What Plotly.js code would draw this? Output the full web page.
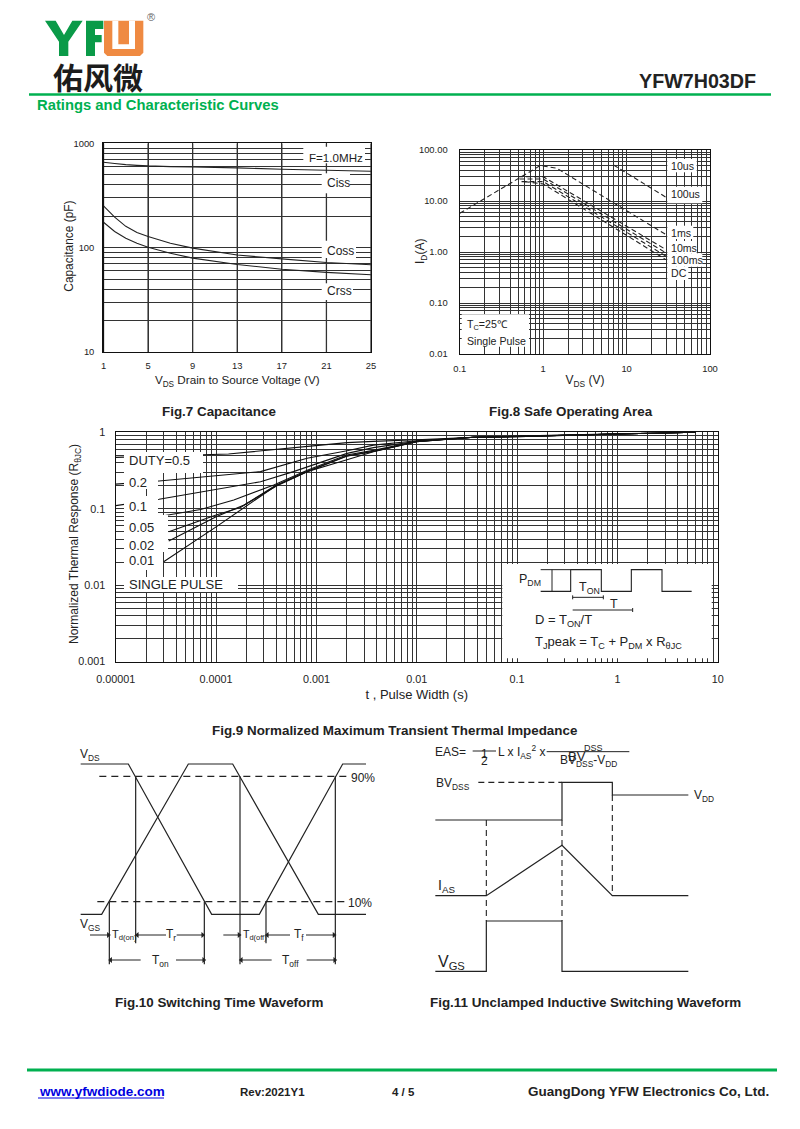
<!DOCTYPE html>
<html><head><meta charset="utf-8">
<script src="https://cdn.plot.ly/plotly-3.0.1.min.js"></script>
<style>html,body{margin:0;padding:0;background:#fff}</style></head>
<body><div id="c" style="width:800px;height:1129px"></div>
<script>
// ---------- Fig.7 Capacitance ----------
const capVds  = [1,2,3,4,5,7,9,13,17,21,25];
const ciss    = [658,640,625,615,607,598,593,581,564,552,540];
const coss    = [251,196,160,140,128,110,99,85,78,72,68.5];
const crss    = [175,143,123,110,101,88.5,79.4,69,62,58,55];
const capXTicks = [1,5,9,13,17,21,25];
const capXLabels = ['1','5','9','13','17','21','25'];
const capYLabels = {10:'10',100:'100',1000:'1000'};

// ---------- Fig.8 Safe Operating Area ----------
const soaEnvelopeV = [0.1,0.92,1.46,9.2,30];
const soaEnvelopeI = [5.75,49.4,43.8,7.0,2.17];
const soa10usV = [6.97,30];
const soa10usI = [50.8,11.7];
const soa10msV = [0.5,1,30];   const soa10msI  = [30,30,1.10];
const soa100msV = [0.52,1,30]; const soa100msI = [27,27,0.95];
const soa1sV = [0.55,1,30];    const soa1sI    = [24,24,0.82];
const soaDcV = [0.6,1,30];     const soaDcI    = [24,21.6,0.70];
const soaXLabels = {0.1:'0.1',1:'1',10:'10',100:'100'};
const soaYLabels = {0.01:'0.01',0.1:'0.10',1:'1.00',10:'10.00',100:'100.00'};

// ---------- Fig.9 Thermal impedance ----------
const zT50 = [1e-5,1.33e-4,8.7e-4,2.02e-3,3.7e-3,0.01,0.037,0.1,1,6];
const z50  = [0.47,0.52,0.66,0.733,0.76,0.80,0.86,0.89,0.955,1.0];
const zT20 = [1e-5,2.7e-5,2.77e-4,8.07e-4,2.02e-3,3.7e-3,0.01,0.037,0.1,1,6];
const z20  = [0.21,0.231,0.306,0.457,0.575,0.68,0.775,0.86,0.885,0.95,1.0];
const zT10 = [1e-5,2.7e-5,2.77e-4,5.9e-4,2.02e-3,3.7e-3,0.01,0.037,0.1,1,6];
const z10  = [0.11,0.133,0.226,0.306,0.53,0.63,0.765,0.86,0.88,0.95,1.0];
const zT05 = [2.9e-5,7e-5,1.5e-4,3.76e-4,8.1e-4,2e-3,3.7e-3,0.01,0.037,0.1,1,6];
const z05  = [0.0804,0.098,0.130,0.205,0.32,0.505,0.58,0.76,0.86,0.88,0.95,1.0];
const zT02 = [3.37e-5,1e-4,1.75e-4,3.76e-4,8.1e-4,2e-3,3.7e-3,0.01,0.037,0.1,1,6];
const z02  = [0.050,0.083,0.104,0.195,0.31,0.49,0.565,0.757,0.86,0.88,0.95,1.0];
const zT01 = [3.37e-5,1e-4,1.9e-4,4e-4,8.1e-4,2e-3,3.7e-3,0.01,0.037,0.1,1,6];
const z01  = [0.038,0.0788,0.112,0.198,0.305,0.485,0.56,0.755,0.86,0.878,0.95,1.0];
const zTS  = [3e-5,1e-4,4.05e-4,8.07e-4,1.73e-3,3.7e-3,0.01,0.0366,0.1,1,6];
const zS   = [0.0203,0.058,0.205,0.306,0.413,0.558,0.755,0.86,0.877,0.95,1.0];
const zXLabels = {0.00001:'0.00001',0.0001:'0.0001',0.001:'0.001',0.01:'0.01',0.1:'0.1',1:'1',10:'10'};
const zYLabels = {0.001:'0.001',0.01:'0.01',0.1:'0.1',1:'1'};

// Inset waveform of Fig.9 (source units)
const insetPulseX = [602,692,692,784,784,874,874,966,966,1055];
const insetPulseY = [514,514,449,449,514,514,449,449,514,514];
const insetMarksX = [602,692,null,636,636,null,698,790,null,698,698,null,790,790,null,698,878,null,878,878];
const insetMarksY = [449,449,null,449,514,null,532,532,null,526,538,null,526,538,null,570,570,null,564,576];

// ---------- Fig.10 Switching waveform (source units) ----------
const swVdsX = [62,205,455,598,848,918];
const swVdsY = [87,87,538,538,87,87];
const swVgsX = [62,125,385,518,775,918];
const swVgsY = [538,538,87,87,538,538];
const swDashX = [118,860,null,112,860];
const swDashY = [124,124,null,500,500];
const swDropX = [148,148,null,227,227,null,433,433,null,540,540,null,618,618,null,826,826];
const swDropY = [500,688,null,124,625,null,500,688,null,124,688,null,500,625,null,124,688];
const swDimX = [90,148,null,232,318,null,350,430,null,490,540,null,622,690,null,738,825,null,150,242,null,348,431,null,542,635,null,740,824];
const swDimY = [600,600,null,600,600,null,600,600,null,600,600,null,600,600,null,600,600,null,675,675,null,675,675,null,675,675,null,675,675];
const swHeadRX = [145,428,537,822,431,824];
const swHeadRY = [600,600,600,600,675,675];
const swHeadLX = [232,622,152,544];
const swHeadLY = [600,600,675,675];

// ---------- Fig.11 Unclamped waveform (source units) ----------
const uisVdsX = [46,426,426,577,577,805];
const uisVdsY = [255,255,142,142,180,180];
const uisIasX = [46,199,426,577,805];
const uisIasY = [482,482,331,482,482];
const uisVgsX = [46,199,199,426,426,805];
const uisVgsY = [709,709,558,558,709,709];
const uisDashX = [175,426,null,199,199,null,426,426,null,577,577];
const uisDashY = [142,142,null,255,558,null,255,558,null,180,482];
const uisRuleX = [158,228,null,380,628];
const uisRuleY = [48,48,null,50,50];

// ---------- Logo outlines (source units) ----------
const logoYX = [30,62,87,112,143,100,100,72,72];
const logoYY = [47,47,90,47,47,110,153,153,110];
const logoFX = [153,205,205,180,180,200,200,180,180,153];
const logoFY = [47,47,72,72,90,90,112,112,153,153];
const logoUX = [207,325,325,315,217,207];
const logoUY = [47,47,143,153,153,143];
const logoSlotX = [232,250,250,282,282,300,300,232];
const logoSlotY = [47,47,118,118,47,47,132,132];

// ---------- Label backdrops on the charts, page pixels ----------
const backdrops = [
 [303.3,365,146.7,163.3],[321.7,350,173.3,193.3],[321.7,356,240.7,258],[321.7,353,283.3,300],
 [667.3,696.7,159,172.3],[667.3,702.3,186.7,203.3],[667.3,693.3,225.7,239],[667.3,696.7,241,253.3],
 [667.3,702.3,253.3,266.7],[667.3,688.3,266.7,280],[461.7,529,314.3,346.7],
 [124,203,452,473],[124,158,473,489],[124,158,496,515],[124,168,515,552],[124,163,552,570],[124,238,577,592],
 [502.3,711.7,564,658.3]
];

// ---------- Helpers ----------
const W=800,H=1129,INK='#222',GRID='#333',FONT='"Liberation Sans",Arial,sans-serif';
function logTicks(minE,maxE){const v=[];for(let e=minE;e<maxE;e++)for(let m=1;m<10;m++)v.push(+(m+'e'+e));v.push(+('1e'+maxE));return v;}
function logAxis(px0,px1,horizontal,minE,maxE,labels,standoff,tickSize,titleText,titleSize,titleStandoff,anchor){
 const vals=logTicks(minE,maxE);
 const a={type:'log',range:[minE,maxE],anchor:anchor,
  domain:horizontal?[px0/W,px1/W]:[1-px1/H,1-px0/H],
  tickmode:'array',tickvals:vals,ticktext:vals.map(v=>labels[v]||''),
  ticks:'',ticklabelstandoff:standoff,showgrid:true,gridcolor:GRID,gridwidth:1,zeroline:false,
  showline:true,mirror:true,linecolor:'#111',linewidth:1.3,
  tickfont:{family:FONT,size:tickSize,color:INK},
  automargin:false,fixedrange:true};
 if(titleText)a.title={text:titleText,font:{family:FONT,size:titleSize,color:INK},standoff:titleStandoff};
 return a;
}
function hiddenAxes(n,px,py,rx,ry){
 const o={};
 const base={visible:false,fixedrange:true,autorange:false};
 o['xaxis'+n]=Object.assign({},base,{domain:[px[0]/W,px[1]/W],range:rx,anchor:'y'+n});
 o['yaxis'+n]=Object.assign({},base,{domain:[1-py[1]/H,1-py[0]/H],range:ry,anchor:'x'+n});
 return o;
}
function line(x,y,axis,w,dash,color){
 return {x:x,y:y,xaxis:'x'+axis,yaxis:'y'+axis,mode:'lines',type:'scatter',hoverinfo:'skip',connectgaps:false,
  line:{color:color||INK,width:w||1,dash:dash||'solid',simplify:false}};
}
function fillPoly(x,y,axis,color){
 return {x:x,y:y,xaxis:'x'+axis,yaxis:'y'+axis,mode:'lines',type:'scatter',fill:'toself',fillcolor:color,hoverinfo:'skip',line:{width:0,color:color}};
}
function head(x,y,sym,axis){
 return {x:x,y:y,xaxis:'x'+axis,yaxis:'y'+axis,mode:'markers',type:'scatter',hoverinfo:'skip',marker:{symbol:sym,size:5,color:INK}};
}

// ---------- Traces ----------
const traces=[];
// vertical rules of Fig.7, one per tick
const capRuleX=[],capRuleY=[];
capXTicks.forEach(v=>{capRuleX.push(v,v,null);capRuleY.push(10,1000,null);});
traces.push(line(capRuleX,capRuleY,'',1.3,null,GRID));
[ciss,coss,crss].forEach(s=>traces.push(line(capVds,s,'',1.1,null,'#222')));
const DASH='5px,3px';
[[soaEnvelopeV,soaEnvelopeI],[soa10usV,soa10usI],[soa10msV,soa10msI],[soa100msV,soa100msI],[soa1sV,soa1sI],[soaDcV,soaDcI]]
 .forEach(p=>traces.push(line(p[0],p[1],2,1.1,DASH,'#222')));
[[zT50,z50],[zT20,z20],[zT10,z10],[zT05,z05],[zT02,z02],[zT01,z01],[zTS,zS]].forEach(p=>traces.push(line(p[0],p[1],3,1.1,null,'#111')));
backdrops.forEach(b=>traces.push(fillPoly([b[0],b[1],b[1],b[0],b[0]],[b[2],b[2],b[3],b[3],b[2]],4,'#fff')));
const GREEN='#00b050';
traces.push(line([29,771],[94.5,94.5],4,2.5,null,GREEN));
traces.push(line([27,777],[1070,1070],4,3,null,GREEN));
traces.push(line([38,164],[1098,1098],4,1.2,null,'#0000e0'));
traces.push(line(insetPulseX,insetPulseY,5,1.1));
traces.push(line(insetMarksX,insetMarksY,5,1));
traces.push(line(swVdsX,swVdsY,6,1.2));
traces.push(line(swVgsX,swVgsY,6,1.2));
traces.push(line(swDashX,swDashY,6,1.2,'7px,5px'));
traces.push(line(swDropX,swDropY,6,1.2));
traces.push(line(swDimX,swDimY,6,1));
traces.push(head(swHeadRX,swHeadRY,'triangle-right',6));
traces.push(head(swHeadLX,swHeadLY,'triangle-left',6));
traces.push(line(uisVdsX,uisVdsY,7,1.2));
traces.push(line(uisIasX,uisIasY,7,1.2));
traces.push(line(uisVgsX,uisVgsY,7,1.2));
traces.push(line(uisDashX,uisDashY,7,1.1,'6px,4px'));
traces.push(line(uisRuleX,uisRuleY,7,1));
traces.push(fillPoly(logoYX,logoYY,8,'#0a9a48'));
traces.push(fillPoly(logoFX,logoFY,8,'#0a9a48'));
traces.push(fillPoly(logoUX,logoUY,8,'#ef8a42'));
traces.push(fillPoly(logoSlotX,logoSlotY,8,'#fff'));

// ---------- Text ----------
function t(x,y,text,size,opt){
 opt=opt||{};
 const a={xref:'x4',yref:'y4',x:x,y:y,text:text,showarrow:false,xanchor:opt.a||'left',yanchor:'middle',
  font:{family:opt.f||FONT,size:size,color:opt.c||INK},borderpad:0};
 if(opt.rot)a.textangle=opt.rot;
 return a;
}
const B=s=>'<b>'+s+'</b>';
const CAP=13.4;
const ann=[
 t(97.5,76,B('佑风微'),30,{a:'center',f:'"Noto Sans CJK SC"',c:'#1c1c1c'}),
 t(150.5,16.5,'®',11,{a:'center',c:'#666'}),
 t(757,81,B('YFW7H03DF'),19.7,{a:'right'}),
 t(36,105,B('Ratings and Characteristic Curves'),14.8,{c:GREEN}),
 t(69,246.7,'Capacitance (pF)',11.9,{a:'center',rot:-90}),
 t(421,252,'I<sub>D</sub>(A)',12,{a:'center',rot:-90}),
 t(75,544,'Normalized Thermal Response (R<sub>θJC</sub>)',12,{a:'center',rot:-90}),
 t(308,157,'F=1.0MHz',11.6),t(326,183,'Ciss',12),t(326,250.5,'Coss',12),t(326,291,'Crss',12),
 t(670,165.5,'10us',10.6),t(670,194,'100us',10.6),t(670,233,'1ms',10.6),t(670,248,'10ms',10.6),t(670,260,'100ms',10.6),t(670,273,'DC',10.6),
 t(465.5,325,'T<sub>C</sub>=25℃',10.6),t(465.5,341,'Single Pulse',10.6),
 t(127.7,460.7,'DUTY=0.5',13),t(127.7,482.3,'0.2',13),t(127.7,506,'0.1',13),t(127.7,527.3,'0.05',13),
 t(127.7,545.3,'0.02',13),t(127.7,560.7,'0.01',13),t(127.7,584,'SINGLE PULSE',13),
 t(517.5,580,'P<sub>DM</sub>',12.5),t(578,588,'T<sub>ON</sub>',12.5),t(614,604,'T',12.5,{a:'center'}),
 t(534,620,'D = T<sub>ON</sub>/T',13),t(534,642,'T<sub>J</sub>peak = T<sub>C</sub> + P<sub>DM</sub> x R<sub>θJC</sub>',13),
 t(218.5,411.5,B('Fig.7 Capacitance'),CAP,{a:'center'}),
 t(570.5,411.5,B('Fig.8 Safe Operating Area'),CAP,{a:'center'}),
 t(394.5,730,B('Fig.9 Normalized Maximum Transient Thermal Impedance'),CAP,{a:'center'}),
 t(219,1002.5,B('Fig.10 Switching Time Waveform'),CAP,{a:'center'}),
 t(585.5,1002.5,B('Fig.11 Unclamped Inductive Switching Waveform'),CAP,{a:'center'}),
 t(79,755,'V<sub>DS</sub>',12),t(79,925,'V<sub>GS</sub>',12),t(350,777.7,'90%',12),t(347.3,902.7,'10%',12),
 t(110.5,935,'T<sub>d(on)</sub>',11),t(171,935,'T<sub>r</sub>',12,{a:'center'}),t(160,960.7,'T<sub>on</sub>',12,{a:'center'}),
 t(241.7,935,'T<sub>d(off)</sub>',10.6),t(298.7,935,'T<sub>f</sub>',12,{a:'center'}),t(290,960.7,'T<sub>off</sub>',12,{a:'center'}),
 t(434,752,'EAS=',12),t(497,752,'L x I<sub>AS</sub><sup>2</sup> x',12),t(484,761,'2',12,{a:'center'}),t(484,754,'1',12,{a:'center'}),
 t(593,747.5,'DSS',9,{a:'center'}),t(576.5,756,'BV',13,{a:'center'}),t(588,761,'BV<sub>DSS</sub>-V<sub>DD</sub>',12,{a:'center'}),
 t(434.5,784,'BV<sub>DSS</sub>',12),t(692.5,795.5,'V<sub>DD</sub>',12),t(436.5,886,'I<sub>AS</sub>',14),t(437,962,'V<sub>GS</sub>',16),
 t(38,1091,B('www.yfwdiode.com'),13.5,{c:'#0000e0'}),
 t(239,1092,B('Rev:2021Y1'),11.5),t(403,1092,B('4 / 5'),11.5,{a:'center'}),
 t(770,1091,B('GuangDong YFW Electronics Co, Ltd.'),13.5,{a:'right'})
];

// ---------- Layout ----------
const layout=Object.assign({
 width:W,height:H,margin:{l:0,r:0,t:0,b:0,pad:0},paper_bgcolor:'#fff',plot_bgcolor:'rgba(0,0,0,0)',
 showlegend:false,annotations:ann,hovermode:false,
 xaxis:{type:'linear',domain:[103.5/W,371/W],range:[1,25],autorange:false,anchor:'y',tickmode:'array',tickvals:capXTicks,ticktext:capXLabels,ticks:'',ticklabelstandoff:4,
  showgrid:true,gridcolor:GRID,gridwidth:1,zeroline:false,showline:true,mirror:true,linecolor:'#111',linewidth:1.3,
  tickfont:{family:FONT,size:9.4,color:INK},
  title:{text:'V<sub>DS</sub> Drain to Source Voltage (V)',font:{family:FONT,size:11.7,color:INK},standoff:6},fixedrange:true},
 yaxis:logAxis(143.3,352,false,1,3,capYLabels,6,9.4,null,0,0,'x'),
 xaxis2:logAxis(459.8,710,true,-1,2,soaXLabels,5,9.4,'V<sub>DS</sub> (V)',12,3,'y2'),
 yaxis2:logAxis(150,354,false,-2,2,soaYLabels,9,9.4,null,0,0,'x2'),
 xaxis3:logAxis(115.8,717.7,true,-5,1,zXLabels,7,10.8,'t , Pulse Width (s)',13,6,'y3'),
 yaxis3:logAxis(432.3,661.7,false,-3,0,zYLabels,7,10.8,null,0,0,'x3')
},
 hiddenAxes(4,[0,W],[0,H],[0,W],[H,0]),
 hiddenAxes(5,[340,740],[420,710],[0,1200],[870,0]),
 hiddenAxes(6,[60,400],[735,1015],[0,1020],[840,0]),
 hiddenAxes(7,[420,760],[735,1015],[0,1020],[840,0]),
 hiddenAxes(8,[35,165],[5,95],[0,390],[270,0])
);
Plotly.newPlot('c',traces,layout,{displayModeBar:false,staticPlot:true});
</script></body></html>
